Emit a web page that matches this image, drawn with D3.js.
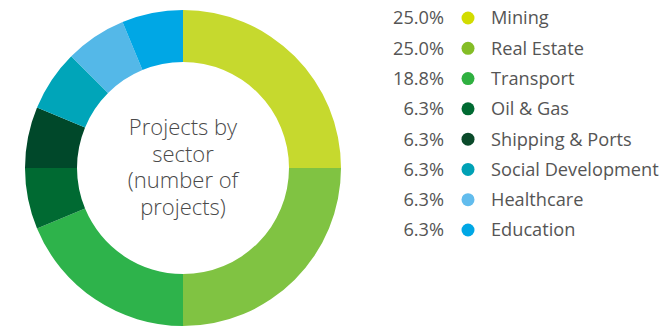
<!DOCTYPE html>
<html>
<head>
<meta charset="utf-8">
<script src="https://cdn.jsdelivr.net/npm/d3@7"></script>
<style>
  html, body { margin: 0; padding: 0; background: #fff; }
  svg { display: block; font-family: "Open Sans", sans-serif; }
</style>
</head>
<body>
<svg id="chart" width="664" height="327"></svg>
<script>
// Projects by sector (number of projects)
const sectors = ["Mining", "Real Estate", "Transport", "Oil & Gas", "Shipping & Ports", "Social Development", "Healthcare", "Education"];
const projectCounts = [4, 4, 3, 1, 1, 1, 1, 1];
const shareLabels = ["25.0%", "25.0%", "18.8%", "6.3%", "6.3%", "6.3%", "6.3%", "6.3%"];
const sliceColors = ["#c6d92e", "#80c342", "#2eb34b", "#006a32", "#00482a", "#00a5b9", "#54b8e8", "#00a7e5"];
const dotColors = ["#d2dc00", "#84bd26", "#2fb040", "#006a32", "#0a4a2a", "#00a1b5", "#62bced", "#00a7e5"];
const centerLines = ["Projects by", "sector", "(number of", "projects)"];

const svg = d3.select("#chart");

const cx = 183, cy = 168, outerR = 158, innerR = 106;

const pie = d3.pie().sort(null).value(d => d);
const arc = d3.arc().innerRadius(innerR).outerRadius(outerR);

const g = svg.append("g").attr("transform", `translate(${cx},${cy})`);
g.selectAll("path")
  .data(pie(projectCounts))
  .join("path")
  .attr("d", arc)
  .attr("fill", (d, i) => sliceColors[i]);

// Centre caption
const lineStep = 26.5;
g.append("text")
  .attr("text-anchor", "middle")
  .attr("fill", "#4a4a4a")
  .style("font-size", "22px")
  .style("font-weight", 300)
  .selectAll("tspan")
  .data(centerLines)
  .join("tspan")
  .attr("x", 0)
  .attr("y", (d, i) => -33 + i * lineStep)
  .text(d => d);

// Legend
const rowY = d3.scalePoint().domain(d3.range(sectors.length)).range([18, 230]);
const legend = svg.append("g");
const rows = legend.selectAll("g")
  .data(sectors)
  .join("g")
  .attr("transform", (d, i) => `translate(0,${rowY(i)})`);

rows.append("text")
  .attr("x", 444)
  .attr("text-anchor", "end")
  .attr("dy", "0.35em")
  .attr("fill", "#555")
  .style("font-size", "18.2px")
  .text((d, i) => shareLabels[i]);

rows.append("circle")
  .attr("cx", 468)
  .attr("r", 6.5)
  .attr("fill", (d, i) => dotColors[i]);

rows.append("text")
  .attr("x", 491)
  .attr("dy", "0.35em")
  .attr("fill", "#555")
  .style("font-size", "18.2px")
  .text(d => d);
</script>
</body>
</html>
